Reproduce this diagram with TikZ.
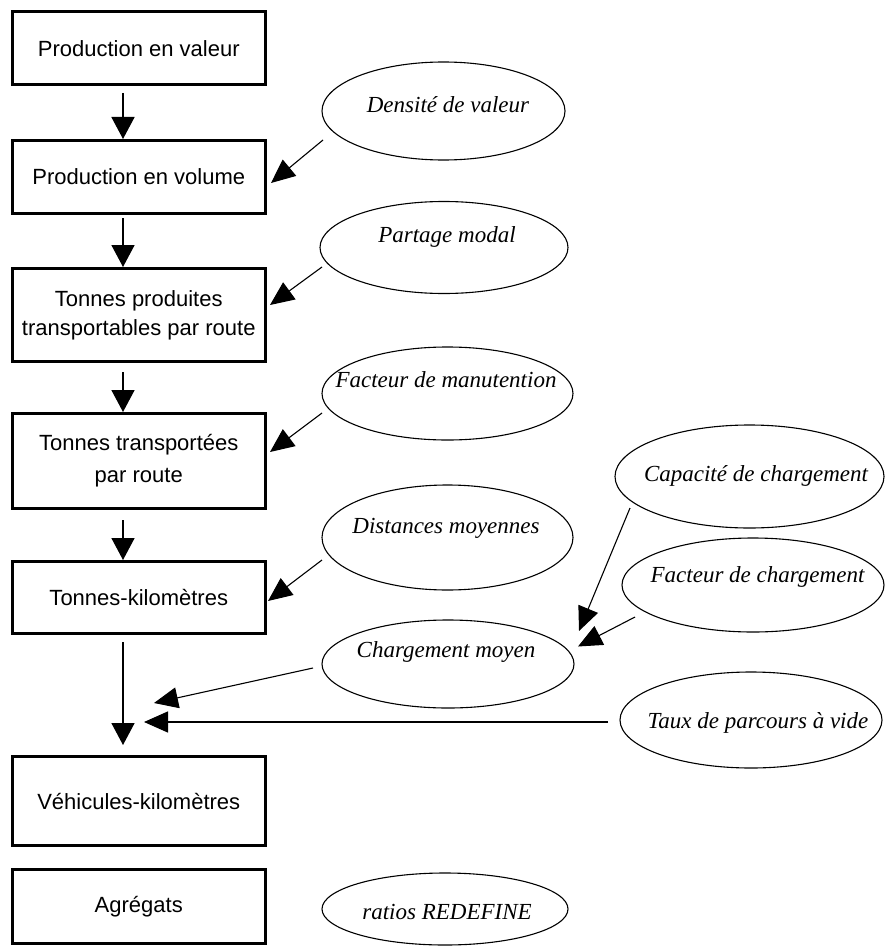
\documentclass[tikz,border=0pt]{standalone}
\usepackage{fontspec}
\setmainfont{Liberation Serif}
\setsansfont{Liberation Sans}
\usetikzlibrary{shapes.geometric,arrows.meta,calc}
\begin{document}
\begin{tikzpicture}[x=1pt,y=-1pt,
  box/.style={draw,line width=3pt,minimum width=252.5pt,inner sep=0pt,align=center,
              font=\sffamily\fontsize{22}{29}\selectfont},
  ell/.style={draw,ellipse,line width=1.1pt,inner sep=0pt},
  etext/.style={anchor=base,inner sep=0pt,font=\itshape\fontsize{23}{28}\selectfont},
  varr/.style={line width=1.6pt,-{Triangle[length=22pt,width=23pt]}},
  darr/.style={line width=1.1pt,-{Triangle[length=24pt,width=21pt]}},
  harr/.style={line width=1.4pt,-{Triangle[length=24pt,width=21pt]}},
]
\useasboundingbox (0,0) rectangle (885,947);

% boxes
\node[box,minimum height=73.5pt] (b1) at (138.75,48.25) {Production en valeur};
\node[box,minimum height=73pt]   (b2) at (138.75,177)   {Production en volume};
\node[box,minimum height=93pt]   (b3) at (138.75,315)   {Tonnes produites\\transportables par route};
\node[box,minimum height=95pt]   (b4) at (138.75,461)   {Tonnes transportées\\[3pt]par route};
\node[box,minimum height=72pt]   (b5) at (138.75,597.5) {Tonnes-kilomètres};
\node[box,minimum height=89pt]   (b6) at (138.75,801)   {Véhicules-kilomètres};
\node[box,minimum height=74pt]   (b7) at (138.75,906.5) {Agrégats};

% ellipses
\node[ell,minimum width=243pt,minimum height=98pt]  (e1) at (443.5,111)   {};
\node[ell,minimum width=248pt,minimum height=92pt]  (e2) at (444,247.5)   {};
\node[ell,minimum width=251pt,minimum height=93pt]  (e3) at (447.5,393.5) {};
\node[ell,minimum width=251pt,minimum height=105pt] (e4) at (447.5,537.5) {};
\node[ell,minimum width=252pt,minimum height=88pt]  (e5) at (448,664)     {};
\node[ell,minimum width=269pt,minimum height=103pt] (e6) at (749.5,476.5) {};
\node[ell,minimum width=262pt,minimum height=94pt]  (e7) at (753,585)     {};
\node[ell,minimum width=262pt,minimum height=96pt]  (e8) at (751,720)     {};
\node[ell,minimum width=246pt,minimum height=72pt]  (e9) at (445,909)     {};

% ellipse texts
\node[etext] (t1) at (448,113)   {Densité de valeur};
\node[etext] (t2) at (447,242)   {Partage modal};
\node[etext] (t3) at (446,387)   {Facteur de manutention};
\node[etext] (t4) at (446,533)   {Distances moyennes};
\node[etext] (t5) at (446,657)   {Chargement moyen};
\node[etext] (t6) at (756,481)   {Capacité de chargement};
\node[etext] (t7) at (757.5,582) {Facteur de chargement};
\node[etext] (t8) at (758,728)   {Taux de parcours à vide};
\node[etext] (t9) at (447,919)   {ratios REDEFINE};

% free arrow ends
\coordinate (j1) at (154,703);
\coordinate (j2) at (144,722);
\coordinate (j3) at (579,631);
\coordinate (j4) at (578,646.5);

% vertical flow
\draw[varr] ($(b1.south)+(-15.75,6.5)$) -- ($(b2.north)+(-15.75,0)$);
\draw[varr] ($(b2.south)+(-15.75,3)$)   -- ($(b3.north)+(-15.75,0)$);
\draw[varr] ($(b3.south)+(-15.75,9)$)   -- ($(b4.north)+(-15.75,0)$);
\draw[varr] ($(b4.south)+(-15.75,10)$)  -- ($(b5.north)+(-15.75,0)$);
\draw[varr] ($(b5.south)+(-15.75,7)$)   -- ($(b6.north)+(-15.75,-10)$);

% ellipse inputs
\draw[darr] ($(e1.center)+(-120.5,29)$)  -- ($(b2.east)+(4.5,6)$);
\draw[darr] ($(e2.center)+(-122,19.5)$)  -- ($(b3.east)+(3.5,-10)$);
\draw[darr] ($(e3.center)+(-125.5,19.5)$) -- ($(b4.east)+(3.5,-9)$);
\draw[darr] ($(e4.center)+(-125.5,22.5)$) -- ($(b5.east)+(1.5,3.5)$);
\draw[darr] ($(e5.center)+(-135,4)$)     -- (j1);
\draw[harr] ($(e8.center)+(-143,2)$)     -- (j2);
\draw[darr] ($(e6.center)+(-119.5,31.5)$) -- (j3);
\draw[darr] ($(e7.center)+(-118,32)$)    -- (j4);
\end{tikzpicture}
\end{document}
